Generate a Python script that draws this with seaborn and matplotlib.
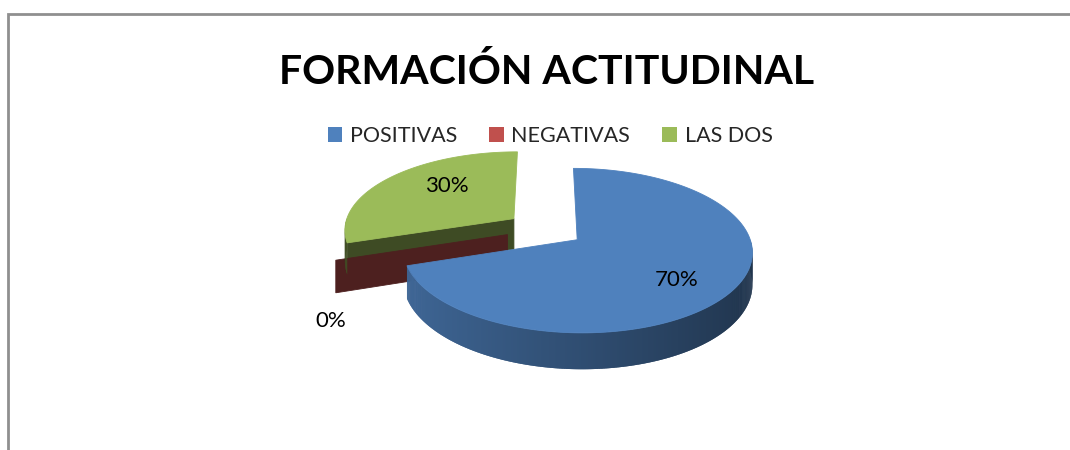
import numpy as np
import matplotlib
matplotlib.use("Agg")
import matplotlib.pyplot as plt
from matplotlib.patches import Patch
from matplotlib.colors import to_rgb
import seaborn as sns

# ---------------- data ----------------
title = "FORMACIÓN ACTITUDINAL"
categories = ["POSITIVAS", "NEGATIVAS", "LAS DOS"]
values = [70, 0, 30]
pct_labels = ["70%", "0%", "30%"]

# ---------------- style ----------------
sns.set_theme(style="white")
plt.rcParams["font.family"] = ["Lato", "DejaVu Sans"]
palette = sns.color_palette(["#4F81BD", "#C0504D", "#9BBB59"])

W, H = 1070, 450
fig = plt.figure(figsize=(W / 100, H / 100), dpi=100)
ax = fig.add_axes([0, 0, 1, 1])
ax.set_xlim(0, W)
ax.set_ylim(H, 0)
ax.axis("off")

# chart border (top and left visible)
ax.plot([8, 8, W], [H, 13.5, 13.5], color="#8f8f8f", lw=2, solid_joinstyle="miter")

# ---------------- 3D pie layout ----------------
cx, cy = 545, 229          # centre of pie (pixels)
a, b = 170, 78             # horizontal / vertical semi-axes
persp = 0.13               # perspective strength
depth = 31                 # thickness
explode = 0.23             # explode distance (radius units)


def proj(X, Z, h=0.0):
    s = 1.0 / (1.0 + persp * Z)
    return cx + a * X * s, cy - b * Z * s + h * depth * s


def shade(col, f):
    r, g, bb = to_rgb(col)
    return (r * f, g * f, bb * f)


fr = np.array(values, dtype=float) / np.sum(values)
ends = np.cumsum(fr) * 360.0
starts = ends - fr * 360.0
mids = (starts + ends) / 2.0

order = np.argsort(-np.cos(np.radians(mids)))  # far slices first

for i in order:
    t0, t1, tm = starts[i], ends[i], mids[i]
    col = palette[i]
    ox = explode * np.sin(np.radians(tm))
    oz = explode * np.cos(np.radians(tm))
    far_slice = np.cos(np.radians(tm)) > 0

    # cut faces
    for t, nrm in ((t0, t0 - 90), (t1, t1 + 90)):
        if np.cos(np.radians(nrm)) < -1e-6:
            rx = ox + np.sin(np.radians(t))
            rz = oz + np.cos(np.radians(t))
            pts = [proj(ox, oz, 0), proj(rx, rz, 0), proj(rx, rz, 1), proj(ox, oz, 1)]
            xs, ys = zip(*pts)
            c = shade(col, 0.4)
            ax.fill(xs, ys, color=c, ec=c, lw=0.6, zorder=2)

    # outer wall (visible front part: 90..270 degrees), smooth gradient
    lo, hi = max(t0, 90), min(t1, 270)
    if hi > lo:
        n = max(int((hi - lo) / 0.5), 2)
        ts = np.linspace(lo, hi, n + 1)
        step = ts[1] - ts[0]
        for k in range(n):
            ta = np.radians(ts[k])
            tb = np.radians(min(ts[k + 1] + step, hi))
            xa, za = ox + np.sin(ta), oz + np.cos(ta)
            xb, zb = ox + np.sin(tb), oz + np.cos(tb)
            pts = [proj(xa, za, 0), proj(xb, zb, 0), proj(xb, zb, 1), proj(xa, za, 1)]
            xs, ys = zip(*pts)
            xm = np.sin(ta)
            f = 0.42 if far_slice else 0.8 - 0.4 * (xm + 1) / 2
            c = shade(col, f)
            ax.fill(xs, ys, color=c, lw=0, zorder=3)

    # top face
    if t1 > t0:
        ts = np.radians(np.linspace(t0, t1, 200))
        pts = [proj(ox, oz)] + [proj(ox + np.sin(t), oz + np.cos(t)) for t in ts]
        xs, ys = zip(*pts)
        ax.fill(xs, ys, color=col, ec=col, lw=0.6, zorder=4)

# data labels (anchor positions in pie units)
label_pos = [(0.715, -0.603), (-1.092, -1.022), (-0.621, 0.594)]
for i, (lx, lz) in enumerate(label_pos):
    x, y = proj(lx, lz)
    ax.text(x, y, pct_labels[i], ha="center", va="center", fontsize=16,
            color="black", zorder=6)

# title
ax.text(547, 84, title, ha="center", va="baseline", fontsize=29.5,
        fontweight="bold", color="black")

# legend
handles = [Patch(facecolor=palette[i], edgecolor="none", label=categories[i])
           for i in range(len(categories))]
ax.legend(handles=handles, loc="center", bbox_to_anchor=(550 / W, 1 - 136 / H),
          ncol=3, frameon=False, fontsize=15.5, handlelength=0.68,
          handleheight=0.68, handletextpad=0.35, columnspacing=1.5)

fig.savefig("out.png", dpi=100, facecolor="white")
